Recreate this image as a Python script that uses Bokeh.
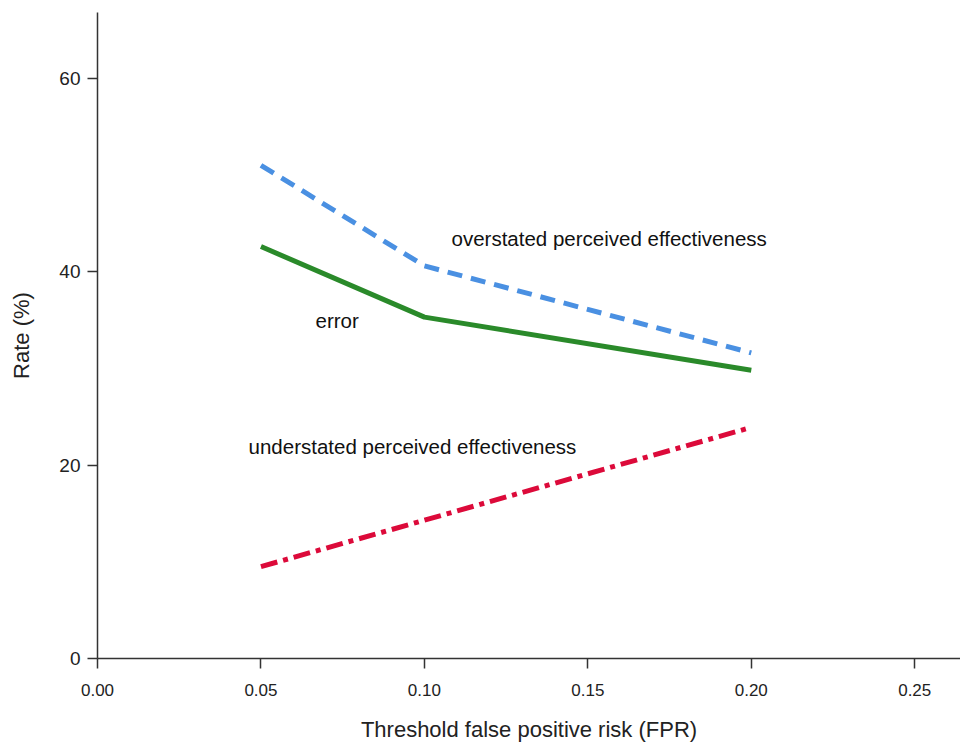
from bokeh.plotting import figure
from bokeh.models import Range1d, FixedTicker, NumeralTickFormatter, ColumnDataSource
from bokeh.core.properties import value
from bokeh.embed import file_html
from bokeh.resources import INLINE

fpr = [0.05, 0.10, 0.20]
overstated = [51.0, 40.6, 31.6]
error = [42.6, 35.3, 29.8]
understated = [9.5, 14.3, 23.9]

x_ticks = [0.0, 0.05, 0.10, 0.15, 0.20, 0.25]
y_ticks = [0, 20, 40, 60]

label_text = ["overstated perceived effectiveness", "error", "understated perceived effectiveness"]
label_x = [0.1083, 0.0667, 0.0462]
label_y = [43.4, 34.9, 21.9]

p = figure(width=960, height=744, output_backend="svg", toolbar_location=None,
           x_range=Range1d(0, 0.264), y_range=Range1d(0, 66.8),
           min_border_left=97, min_border_right=0, min_border_top=12, min_border_bottom=86)
p.outline_line_color = None
p.grid.grid_line_color = None
p.background_fill_color = "white"

p.line(fpr, overstated, line_color="#4A90E2", line_width=5, line_dash="15 9")
p.line(fpr, error, line_color="#2A8A2A", line_width=5)
p.line(fpr, understated, line_color="#DC0A3A", line_width=5, line_dash="17 6 5 6")

src = ColumnDataSource(dict(x=label_x, y=label_y, t=label_text))
p.text(x="x", y="y", text="t", source=src, text_font=value("Liberation Sans"),
       text_font_size="20.5px", text_baseline="middle", text_align="left", text_color="#111111")

for ax in (p.xaxis[0], p.yaxis[0]):
    ax.axis_line_color = "#333333"
    ax.axis_line_width = 1.5
    ax.major_tick_line_color = "#333333"
    ax.major_tick_line_width = 1.5
    ax.major_tick_out = 10
    ax.major_tick_in = 0
    ax.minor_tick_line_color = None
    ax.major_label_text_color = "#222222"
    ax.axis_label_text_color = "#222222"
    ax.axis_label_text_font_style = "normal"

p.xaxis.ticker = FixedTicker(ticks=x_ticks)
p.xaxis.formatter = NumeralTickFormatter(format="0.00")
p.xaxis.axis_label = "Threshold false positive risk (FPR)"
p.xaxis.major_label_text_font = "Liberation Sans"
p.xaxis.major_label_text_font_size = "17px"
p.xaxis.axis_label_text_font = "Liberation Sans"
p.xaxis.axis_label_text_font_size = "22px"
p.xaxis.major_label_standoff = 15
p.xaxis.axis_label_standoff = 18

p.yaxis.ticker = FixedTicker(ticks=y_ticks)
p.yaxis.axis_label = "Rate (%)"
p.yaxis.major_label_text_font = "Liberation Sans"
p.yaxis.major_label_text_font_size = "19px"
p.yaxis.axis_label_text_font = "Liberation Sans"
p.yaxis.axis_label_text_font_size = "22px"
p.yaxis.major_label_standoff = 7
p.yaxis.axis_label_standoff = 22

open("out.html", "w").write(file_html(p, INLINE))
